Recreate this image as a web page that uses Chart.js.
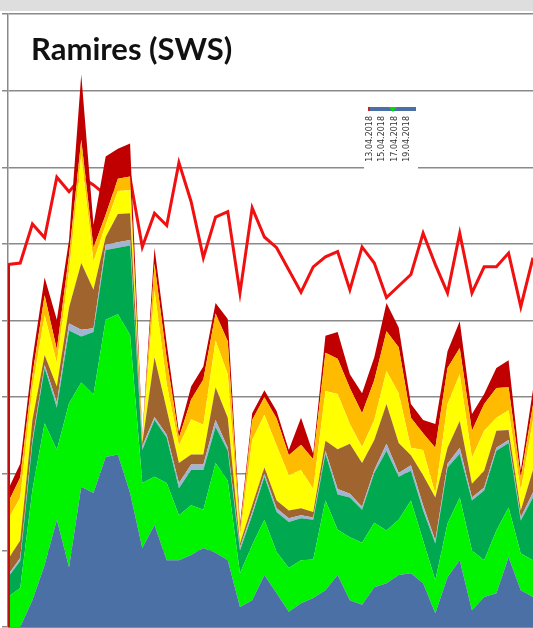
<!DOCTYPE html>
<html>
<head>
<meta charset="utf-8">
<script src="https://cdn.jsdelivr.net/npm/chart.js@4"></script>
<style>
  html, body { margin: 0; padding: 0; background: #fff; }
  #wrap { width: 533px; height: 628px; position: relative; }
</style>
</head>
<body>
<div id="wrap"><canvas id="chart" width="533" height="628"></canvas></div>
<script>
const days = ['1','2','3','4','5','6','7','8','9','10','11','12','13','14','15','16','17','18','19','20','21','22',
  '23','24','25','26','27','28','29','30','31','32','33','34','35','36','37','38','39','40','41','42','43','44'];

// stacked layers, bottom to top
const blue = [0,0,0.35,0.81,1.40,0.78,1.83,1.75,2.22,2.25,1.75,1.03,1.33,0.87,0.87,0.94,1.03,0.97,0.87,0.26,0.35,0.68,0.44,0.20,0.31,0.38,0.48,0.68,0.35,0.29,0.52,0.57,0.68,0.70,0.57,0.18,0.65,0.87,0.22,0.39,0.44,0.91,0.48,0.39];
const green = [0.39,0.51,1.44,1.85,0.91,2.14,1.36,1.28,1.79,1.83,2.06,0.85,0.63,1.01,0.59,0.65,0.50,1.17,1.04,0.44,0.72,0.72,0.54,0.57,0.56,0.50,1.17,0.59,0.82,0.81,0.84,0.69,0.72,0.95,0.56,0.43,0.70,0.82,0.78,0.48,0.82,0.65,0.48,0.48];
const darkGreen = [0.26,0.35,0.61,0.72,0.55,0.95,0.60,0.82,0.91,0.87,1.17,0.43,0.74,0.59,0.35,0.46,0.52,0.47,0.39,0.30,0.39,0.56,0.52,0.60,0.55,0.52,0.61,0.46,0.52,0.43,0.65,1.04,0.56,0.39,0.39,0.48,0.73,0.57,0.65,0.91,1.04,0.84,0.43,0.82];
const greyBlue = [0.03,0.04,0.04,0.04,0.07,0.09,0.09,0.05,0.07,0.07,0.07,0.05,0.04,0.04,0.07,0.07,0.07,0.09,0.04,0.04,0.04,0.04,0.05,0.05,0.04,0.03,0.04,0.07,0.05,0.04,0.04,0.09,0.05,0.07,0.07,0.04,0.05,0.08,0.04,0.04,0.04,0.04,0.04,0.07];
const brown = [0.20,0.23,0.26,0.13,0.21,0.21,0.87,0.50,0.10,0.37,0.35,0.04,0.78,0.33,0.26,0.13,0.13,0.43,0.39,0.05,0.09,0.08,0.10,0.10,0.09,0.07,0.13,0.52,0.65,0.57,0.39,0.52,0.39,0.13,0.39,0.56,0.21,0.35,0.18,0.22,0.22,0.13,0.09,0.29];
const yellow = [0.52,0.56,0.42,0.52,0.31,0.48,1.41,0.37,0.16,0.30,0.30,0.03,0.87,0.33,0.23,0.46,0.39,0.61,0.57,0.08,0.85,0.69,0.72,0.46,0.50,0.30,0.65,0.72,0.26,0.21,0.26,0.43,0.65,0.10,0.33,0.05,0.57,0.61,0.34,0.52,0.17,0.26,0.26,0.65];
const orange = [0.22,0.26,0.17,0.26,0.17,0.20,0.20,0.18,0.13,0.16,0.18,0.03,0.35,0.33,0.10,0.26,0.59,0.35,0.43,0.09,0.26,0.23,0.35,0.26,0.33,0.39,0.50,0.46,0.47,0.44,0.52,0.52,0.60,0.39,0.22,0.60,0.47,0.34,0.35,0.35,0.39,0.30,0.17,0.20];
const darkRed = [0.17,0.18,0.20,0.23,0.39,0.20,0.85,0.30,0.76,0.39,0.43,0.03,0.21,0.20,0.07,0.17,0.17,0.14,0.29,0.07,0.09,0.09,0.10,0.07,0.35,0.07,0.22,0.35,0.18,0.26,0.30,0.37,0.26,0.18,0.17,0.31,0.22,0.35,0.22,0.13,0.26,0.35,0.09,0.20];

// separate line, not stacked
const redLine = [4.73,4.75,5.26,5.08,5.87,5.68,5.87,5.77,5.64,5.73,5.86,4.96,5.40,5.24,6.06,5.55,4.82,5.35,5.42,4.36,5.47,5.09,4.95,4.66,4.37,4.70,4.83,4.90,4.40,4.96,4.75,4.30,4.45,4.60,5.14,4.73,4.36,5.14,4.36,4.70,4.70,4.88,4.18,4.82];

const legendDates = ['13.04.2018', '15.04.2018', '17.04.2018', '19.04.2018'];

const layers = [
  { data: blue, color: '#4a70a6' },
  { data: green, color: '#00f400' },
  { data: darkGreen, color: '#00a850' },
  { data: greyBlue, color: '#a3b3d2' },
  { data: brown, color: '#a0642e' },
  { data: yellow, color: '#ffff00' },
  { data: orange, color: '#ffbb00' },
  { data: darkRed, color: '#c00000' }
];

const datasets = layers.map((l, i) => ({
  data: l.data,
  backgroundColor: l.color,
  borderColor: l.color,
  borderWidth: 0,
  pointRadius: 0,
  fill: i === 0 ? 'origin' : '-1',
  tension: 0,
  stack: 'areas'
}));

datasets.push({
  data: redLine,
  borderColor: '#f01010',
  borderWidth: 3,
  pointRadius: 0,
  fill: false,
  tension: 0,
  stack: 'line'
});

const extras = {
  id: 'extras',
  beforeDraw(chart) {
    const ctx = chart.ctx;
    ctx.save();
    ctx.fillStyle = '#ffffff';
    ctx.fillRect(0, 0, chart.width, chart.height);
    ctx.fillStyle = '#dedede';
    ctx.fillRect(0, 0, chart.width, 11);
    ctx.restore();
  },
  afterDraw(chart) {
    const ctx = chart.ctx;
    const x = chart.scales.x, y = chart.scales.y;
    ctx.save();
    // red drop at the first point of the line
    ctx.strokeStyle = '#c01010';
    ctx.lineWidth = 2;
    ctx.beginPath();
    ctx.moveTo(x.getPixelForValue(0) + 1, y.getPixelForValue(redLine[0]));
    ctx.lineTo(x.getPixelForValue(0) + 1, y.getPixelForValue(0));
    ctx.stroke();

    // title
    ctx.fillStyle = '#111';
    ctx.font = 'bold 31px Lato';
    ctx.textBaseline = 'alphabetic';
    ctx.fillText('Ramires (SWS)', 31, 60);

    // small date legend box
    ctx.fillStyle = '#ffffff';
    ctx.fillRect(364, 104, 54, 66);
    ctx.fillStyle = '#4a70a6';
    ctx.fillRect(368, 107, 48, 4);
    ctx.fillStyle = '#d02020';
    ctx.fillRect(368, 107, 2, 4);
    ctx.fillStyle = '#00e000';
    ctx.beginPath();
    ctx.moveTo(389, 107); ctx.lineTo(397, 107); ctx.lineTo(393, 112); ctx.closePath();
    ctx.fill();
    ctx.fillStyle = '#333';
    ctx.font = '8px "DejaVu Sans"';
    ctx.textAlign = 'right';
    ctx.textBaseline = 'middle';
    legendDates.forEach((d, i) => {
      ctx.save();
      ctx.translate(370 + i * 12.3, 116);
      ctx.rotate(-Math.PI / 2);
      ctx.fillText(d, 0, 0);
      ctx.restore();
    });
    ctx.restore();
  }
};

new Chart(document.getElementById('chart'), {
  type: 'line',
  data: { labels: days, datasets },
  options: {
    responsive: false,
    animation: false,
    layout: { padding: { top: 14, left: 0, right: 0, bottom: 0 } },
    plugins: { legend: { display: false }, tooltip: { enabled: false }, title: { display: false } },
    scales: {
      x: {
        grid: { display: false },
        border: { color: '#8a8a8a', width: 1 },
        ticks: { display: false },
        afterFit(scale) { scale.height = 1; }
      },
      y: {
        stacked: true,
        min: 0,
        max: 8,
        ticks: { display: false, stepSize: 1 },
        grid: { color: '#8a8a8a', lineWidth: 1.5, tickLength: 6 },
        border: { color: '#8a8a8a', width: 1.5 },
        afterFit(scale) { scale.width = 8; }
      }
    }
  },
  plugins: [extras]
});
</script>
</body>
</html>
